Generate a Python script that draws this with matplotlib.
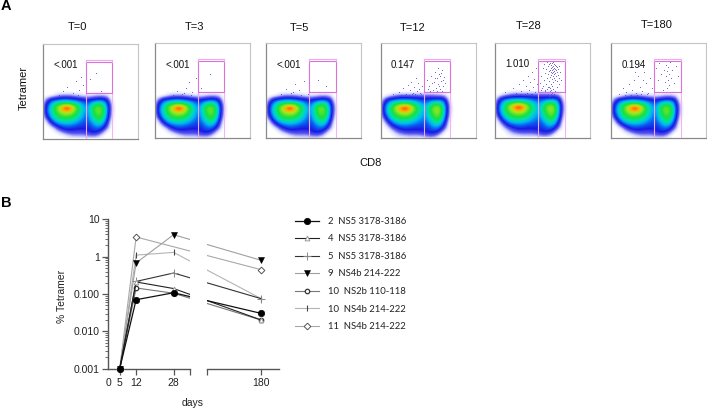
import numpy as np
import matplotlib
matplotlib.use('Agg')
import matplotlib.pyplot as plt
from matplotlib.colors import LinearSegmentedColormap
from matplotlib.lines import Line2D
from matplotlib.patches import Rectangle
from matplotlib.ticker import FixedLocator, NullFormatter

W, H = 707, 409
plt.rcParams['font.family'] = ['Liberation Sans', 'DejaVu Sans']

# panel A
panel_titles = ['T=0', 'T=3', 'T=5', 'T=12', 'T=28', 'T=180']
panel_freqs = ['<.001', '<.001', '<.001', '0.147', '1.010', '0.194']
panel_left = [42.5, 154.5, 266.3, 380.5, 495, 611]
panel_top = [43.5, 43, 43.3, 43, 42.5, 43]
title_x = [77, 195, 299, 413, 528.7, 656.7]
title_y = [27, 27, 28.3, 28.3, 25.7, 25]

# event density, rows from top to bottom
density_early = np.array([
    [0, 0, .03, .06, .08, .08, .08, .06, .05, .03, .03, .03, .05, .06, .06, .04, 0],
    [.08, .2, .24, .27, .29, .29, .27, .25, .22, .2, .17, .2, .22, .24, .24, .18, .02],
    [.18, .3, .42, .48, .52, .54, .52, .46, .38, .3, .25, .32, .44, .48, .42, .26, .06],
    [.22, .36, .5, .66, .86, 1.0, .88, .66, .48, .36, .28, .4, .56, .6, .52, .3, .08],
    [.22, .35, .48, .58, .68, .72, .68, .56, .46, .34, .27, .38, .54, .6, .52, .3, .07],
    [.16, .31, .42, .5, .54, .55, .53, .48, .4, .31, .25, .35, .48, .54, .48, .28, .05],
    [.05, .22, .33, .4, .43, .44, .42, .38, .32, .27, .23, .31, .41, .48, .4, .22, .02],
    [0, .08, .2, .27, .3, .31, .3, .28, .25, .23, .21, .25, .32, .36, .3, .15, 0],
    [0, 0, .05, .14, .2, .22, .22, .2, .19, .19, .19, .21, .25, .26, .2, .08, 0],
    [0, 0, 0, .03, .07, .11, .13, .13, .13, .13, .15, .18, .19, .16, .07, 0, 0],
    [0, 0, 0, 0, 0, .02, .04, .05, .05, .05, .06, .07, .07, .04, 0, 0, 0],
])
density_late = np.array([
    [0, .02, .05, .08, .1, .1, .1, .1, .1, .1, .1, .1, .1, .08, .08, .05, 0],
    [.1, .22, .26, .28, .3, .3, .29, .28, .26, .24, .22, .23, .24, .26, .26, .2, .02],
    [.2, .32, .44, .5, .54, .56, .54, .48, .4, .33, .28, .34, .46, .5, .44, .28, .06],
    [.24, .38, .52, .7, .88, 1.0, .9, .68, .5, .4, .32, .44, .58, .66, .56, .32, .08],
    [.23, .37, .5, .6, .7, .74, .7, .58, .48, .38, .3, .42, .56, .66, .56, .31, .07],
    [.17, .32, .43, .5, .54, .56, .54, .48, .4, .32, .28, .38, .5, .58, .5, .29, .05],
    [.06, .23, .33, .4, .43, .44, .42, .38, .32, .29, .26, .32, .42, .5, .42, .23, .02],
    [.01, .1, .22, .28, .31, .31, .3, .28, .26, .24, .22, .26, .34, .38, .32, .16, 0],
    [0, .02, .1, .16, .2, .22, .22, .2, .2, .2, .2, .22, .26, .28, .22, .09, 0],
    [0, 0, .02, .07, .11, .13, .14, .14, .14, .15, .17, .19, .2, .18, .09, 0, 0],
    [0, 0, 0, .02, .03, .04, .05, .05, .05, .05, .07, .09, .09, .05, 0, 0, 0],
])
panel_density = [density_early, density_early, density_early, density_late, density_late, density_early]

# sparse events above the main populations
t0_x = [20, 24, 30, 33, 36, 38, 40, 47, 53, 58, 16, 28, 35]
t0_y = [48, 52, 46, 58, 49, 62, 54, 60, 66, 48, 44, 43, 44]
t3_x = [22, 27, 31, 34, 37, 41, 46, 55, 18, 29, 36]
t3_y = [47, 44, 50, 56, 46, 60, 50, 64, 43, 45, 43]
t5_x = [20, 25, 29, 33, 38, 42, 52, 60, 15, 27, 35]
t5_y = [49, 45, 54, 48, 57, 44, 58, 52, 44, 46, 43]
t12_x = [12, 18, 22, 25, 27, 29, 30, 32, 33, 35, 36, 37, 38, 40, 41, 20, 24, 28, 31, 34, 39,
         46, 48, 50, 52, 53, 54, 55, 56, 57, 58, 59, 60, 61, 62, 63, 49, 51, 54, 57, 60, 62, 47, 56, 58, 59, 61, 64]
t12_y = [44, 46, 50, 44, 53, 48, 56, 45, 51, 60, 47, 55, 49, 44, 52, 43, 43, 43, 44, 44, 45,
         58, 52, 62, 48, 56, 66, 50, 60, 54, 64, 49, 57, 68, 52, 61, 47, 55, 60, 70, 65, 58, 49, 47, 52, 62, 47, 55]
t28_x = [10, 15, 18, 21, 24, 26, 28, 30, 31, 33, 34, 35, 36, 37, 38, 39, 40, 41, 42, 20, 25, 29, 32, 37, 40,
         45, 46, 47, 48, 49, 49, 50, 50, 51, 51, 52, 52, 53, 53, 53, 54, 54, 54, 55, 55, 55, 55, 56, 56, 56, 56, 56,
         57, 57, 57, 57, 57, 58, 58, 58, 58, 58, 58, 59, 59, 59, 59, 59, 60, 60, 60, 60, 61, 61, 61, 62, 62, 62, 63, 63,
         64, 64, 65, 66, 46, 48, 50, 52, 54, 55, 56, 57, 58, 60, 62, 64, 53, 55, 57, 56, 58, 54, 52, 59, 61, 55, 57]
t28_y = [46, 43, 50, 45, 54, 47, 58, 44, 52, 62, 48, 56, 44, 66, 51, 59, 46, 70, 54, 43, 44, 43, 45, 44, 43,
         55, 62, 50, 70, 58, 74, 48, 65, 54, 69, 60, 76, 51, 64, 72, 57, 67, 74, 50, 61, 68, 75, 54, 63, 66, 70, 73,
         59, 65, 68, 71, 75, 56, 62, 66, 69, 72, 76, 60, 64, 67, 70, 74, 58, 65, 69, 73, 62, 68, 72, 57, 66, 71, 63, 69,
         60, 72, 66, 58, 48, 52, 47, 49, 51, 47, 48, 52, 49, 47, 51, 54, 44, 42, 40, 44, 43, 42, 43, 44, 42, 46, 45]
t180_x = [8, 12, 15, 18, 21, 23, 25, 27, 29, 31, 33, 35, 37, 39, 41, 14, 20, 26, 30, 36, 24, 28, 32,
          45, 47, 48, 50, 52, 53, 54, 55, 55, 56, 56, 57, 57, 58, 58, 59, 60, 61, 63, 65, 67]
t180_y = [44, 50, 46, 54, 48, 58, 45, 62, 51, 47, 66, 55, 45, 60, 50, 43, 43, 43, 44, 44, 66, 72, 58,
          70, 58, 75, 64, 48, 68, 56, 73, 62, 50, 67, 58, 71, 64, 53, 76, 60, 68, 55, 72, 62]
panel_events_x = [t0_x, t3_x, t5_x, t12_x, t28_x, t180_x]
panel_events_y = [t0_y, t3_y, t5_y, t12_y, t28_y, t180_y]

# panel B
days = [5, 12, 28, 180]
series_names = ['2  NS5 3178-3186', '4  NS5 3178-3186', '5  NS5 3178-3186', '9  NS4b 214-222',
                '10  NS2b 110-118', '10  NS4b 214-222', '11  NS4b 214-222']
s2_ns5 = [0.001, 0.0703, 0.108, 0.0302]
s4_ns5 = [0.001, 0.21, 0.14, 0.0201]
s5_ns5 = [0.001, 0.217, 0.365, 0.0748]
s9_ns4b = [0.001, 0.68, 3.87, 0.795]
s10_ns2b = [0.001, 0.145, 0.105, 0.02]
s10_ns4b = [0.001, 1.1, 1.3, 0.0748]
s11_ns4b_days = [5, 12, 180]
s11_ns4b = [0.001, 3.36, 0.447]
y_ticks = [0.001, 0.01, 0.1, 1, 10]
y_labels = ['0.001', '0.010', '0.100', '1', '10']

flow_cmap = LinearSegmentedColormap.from_list('flow', [
    (0, '#ffffff'), (0.035, '#d8d8ff'), (0.1, '#5a5af0'), (0.18, '#1818e4'), (0.25, '#0a60f0'),
    (0.32, '#00b8f4'), (0.4, '#00e0a8'), (0.5, '#18e040'), (0.66, '#a8e818'),
    (0.78, '#ffb000'), (0.88, '#ff6000'), (1, '#e82008')])


def px_axes(fig, left, top, w, h):
    return fig.add_axes([left / W, 1 - (top + h) / H, w / W, h / H])


def px_text(fig, x, y, s, **kw):
    kw.setdefault('ha', 'center')
    kw.setdefault('va', 'center')
    fig.text(x / W, 1 - y / H, s, **kw)


fig = plt.figure(figsize=(W / 100, H / 100), dpi=100)

for i in range(6):
    ax = px_axes(fig, panel_left[i], panel_top[i], 95, 95)
    # zero border so the populations fade out instead of ending at the grid edge
    grid = np.pad(panel_density[i], 1)
    ax.imshow(grid, cmap=flow_cmap, vmin=0, vmax=1, interpolation='bicubic',
              extent=(-2.5, 73.5, -4, 48), aspect='auto', origin='upper', zorder=1)
    ax.plot(panel_events_x[i], panel_events_y[i], ls='', marker='s', ms=0.7, mew=0,
            color='#4a4ad0', alpha=0.6, zorder=2)
    # gate
    ax.plot([43, 43], [0, 46], color='#eeaaee', lw=0.8, zorder=3)
    ax.plot([69.5, 69.5], [0, 46], color='#f2b4f2', lw=0.8, zorder=3)
    ax.add_patch(Rectangle((43, 46), 26.5, 31, fill=False, ec='#dc70dc', lw=0.8, zorder=3))
    ax.plot([43, 69.5], [79, 79], color='#eeaaee', lw=0.8, zorder=3)
    ax.plot([43, 43], [77, 79], color='#eeaaee', lw=0.8, zorder=3)
    ax.plot([69.5, 69.5], [77, 79], color='#eeaaee', lw=0.8, zorder=3)
    ax.set_xlim(0, 95)
    ax.set_ylim(0, 95)
    ax.set_xticks([])
    ax.set_yticks([])
    for side in ['top', 'right']:
        ax.spines[side].set_color('#c4c4c4')
        ax.spines[side].set_linewidth(0.8)
    for side in ['left', 'bottom']:
        ax.spines[side].set_color('#8a8a8a')
        ax.spines[side].set_linewidth(0.9)
    ax.text(10.5, 73.5, panel_freqs[i], fontsize=7, ha='left', va='center', color='#111111')
    px_text(fig, title_x[i], title_y[i], panel_titles[i], fontsize=8, color='#111111')

px_text(fig, 24, 88, 'Tetramer', fontsize=8, rotation=90, color='#111111')
px_text(fig, 371, 163, 'CD8', fontsize=8, color='#111111')
px_text(fig, 5.5, 6, 'A', fontsize=10.5, fontweight='bold')
px_text(fig, 6.5, 203, 'B', fontsize=10.5, fontweight='bold')

# broken x axis: same scale on both pieces so the 28-180 line stays straight
K = 0.21


def fwd(x):
    x = np.asarray(x, dtype=float)
    return np.where(x <= 35, x, 35 + (x - 35) * K)


def inv(x):
    x = np.asarray(x, dtype=float)
    return np.where(x <= 35, x, 35 + (x - 35) / K)


decade = 37.35
top_px = 219.3
bot_px = 368.7 + 0.2 * decade
ax_l = px_axes(fig, 108, top_px, 82, bot_px - top_px)
ax_r = px_axes(fig, 207.3, top_px, 72, bot_px - top_px)

styles = [
    dict(color='#111111', lw=0.9, marker='o', ms=4.6, mfc='#000000', mec='#000000', mew=0.5),
    dict(color='#222222', lw=0.8, marker='^', ms=3.4, mfc='#ffffff', mec='#999999', mew=0.7),
    dict(color='#333333', lw=0.8, marker='+', ms=5.5, mec='#888888', mew=0.7),
    dict(color='#a0a0a0', lw=0.8, marker='v', ms=4.8, mfc='#000000', mec='#000000', mew=0.4),
    dict(color='#777777', lw=0.8, marker='o', ms=3.2, mfc='#ffffff', mec='#333333', mew=0.9),
    dict(color='#b4b4b4', lw=0.8, marker='|', ms=5, mec='#444444', mew=0.8),
    dict(color='#a8a8a8', lw=0.8, marker='D', ms=3.4, mfc='#ffffff', mec='#555555', mew=0.7),
]
values = [s2_ns5, s4_ns5, s5_ns5, s9_ns4b, s10_ns2b, s10_ns4b]

for ax in [ax_l, ax_r]:
    ax.set_xscale('function', functions=(fwd, inv))
    ax.set_yscale('log')
    # first series ends up on top, black markers cover the others at day 5
    ax.plot(s11_ns4b_days, s11_ns4b, zorder=2, **styles[6])
    for j, v in enumerate(values):
        ax.plot(days, v, zorder=9 - j, **styles[j])
    ax.set_ylim(10 ** -3.2, 10)
    ax.patch.set_alpha(0)
    ax.spines['top'].set_visible(False)
    ax.spines['right'].set_visible(False)
    ax.spines['bottom'].set_position(('data', 0.001))
    ax.spines['bottom'].set_color('#555555')
    ax.spines['bottom'].set_linewidth(1.0)
    ax.tick_params(axis='x', length=4.5, width=0.9, color='#555555', labelsize=7.5, pad=2.5,
                   labelcolor='#222222')

ax_l.set_xlim(0, 35)
ax_r.set_xlim(70.2, 216.6)
ax_l.set_xticks([0, 5, 12, 28, 35], ['0', '5', '12', '28', ''])
ax_l.xaxis.get_major_ticks()[0].tick1line.set_visible(False)
ax_r.set_xticks([70.2, 180], ['', '180'])

ax_l.spines['left'].set_bounds(0.001, 10)
ax_l.spines['left'].set_color('#555555')
ax_l.spines['left'].set_linewidth(1.0)
ax_l.set_yticks(y_ticks, y_labels)
ax_l.yaxis.set_minor_locator(FixedLocator([m * 10.0 ** e for e in range(-3, 1) for m in range(2, 10)]))
ax_l.yaxis.set_minor_formatter(NullFormatter())
ax_l.tick_params(axis='y', which='major', length=4.5, width=0.9, color='#555555', labelsize=7.5,
                 pad=1.5, labelcolor='#222222')
ax_l.tick_params(axis='y', which='minor', length=2.5, width=0.6, color='#555555')
ax_r.spines['left'].set_visible(False)
ax_r.set_yticks([])
ax_r.yaxis.set_minor_locator(FixedLocator([]))

px_text(fig, 62, 296, '% Tetramer', fontsize=7.5, rotation=90, color='#222222')
px_text(fig, 193, 403, 'days', fontsize=7.5, color='#222222')

handles = [Line2D([], [], **st) for st in styles]
leg = fig.legend(handles, series_names, loc='upper left', bbox_to_anchor=(295 / W, 1 - 217 / H),
                 frameon=False, borderpad=0, borderaxespad=0, handlelength=2.5, handletextpad=1.03,
                 labelspacing=0.9, prop={'family': 'Lato', 'size': 6.8}, labelcolor='#222222')

fig.savefig('out.png', dpi=100)
